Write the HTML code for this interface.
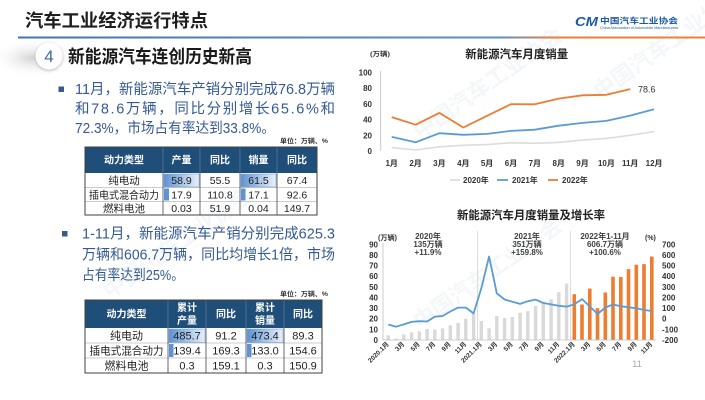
<!DOCTYPE html>
<html><head><meta charset="utf-8">
<style>
html,body{margin:0;padding:0;background:#fff;}
svg{display:block;font-family:"Liberation Sans","Noto Sans CJK SC",sans-serif;}
</style></head>
<body>
<svg width="705" height="400" viewBox="0 0 705 400" xmlns="http://www.w3.org/2000/svg">
<defs>
<linearGradient id="hline" x1="0" x2="1" y1="0" y2="0">
<stop offset="0" stop-color="#3f74b5"/><stop offset="0.7" stop-color="#5b8fcf"/><stop offset="0.78" stop-color="#e8813a"/><stop offset="1" stop-color="#e8813a"/>
</linearGradient>
<radialGradient id="shade" cx="0.5" cy="0.5" r="0.5">
<stop offset="0" stop-color="#cfcfcf" stop-opacity="0.9"/><stop offset="1" stop-color="#ffffff" stop-opacity="0"/>
</radialGradient>
<linearGradient id="cellbar" x1="0" x2="1" y1="0" y2="0">
<stop offset="0" stop-color="#5e92d2"/><stop offset="1" stop-color="#e9f1fb"/>
</linearGradient>
<filter id="sh" x="-50%" y="-50%" width="200%" height="200%"><feDropShadow dx="0" dy="1" stdDeviation="1.5" flood-color="#888" flood-opacity="0.6"/></filter>
</defs>

<!-- watermarks -->
<g fill="#c9d6e6" opacity="0.2" font-size="22" font-weight="bold">
<text transform="translate(110,300) rotate(-35)">中国汽车工业协会</text>
<text transform="translate(420,140) rotate(-35)">中国汽车工业协会</text>
<text transform="translate(600,100) rotate(-35)">中国汽车工业协会</text>
<text transform="translate(420,330) rotate(-35)">中国汽车工业协会</text>
</g>

<!-- header -->
<text x="25" y="27" font-size="18" font-weight="bold" fill="#1e1e1e" textLength="183" lengthAdjust="spacingAndGlyphs">汽车工业经济运行特点</text>
<rect x="18" y="36.5" width="687" height="2" fill="url(#hline)"/>
<text x="575" y="26" font-size="13" font-weight="bold" font-style="italic" fill="#1d5aa8" textLength="23" lengthAdjust="spacingAndGlyphs">CM</text>
<text x="600" y="23.5" font-size="8" font-weight="bold" fill="#1d5aa8" textLength="78" lengthAdjust="spacingAndGlyphs">中国汽车工业协会</text>
<text x="600" y="29" font-size="3.5" fill="#1d5aa8" textLength="78" lengthAdjust="spacingAndGlyphs">China Association of Automobile Manufacturers</text>

<!-- section heading -->
<ellipse cx="32" cy="58" rx="42" ry="20" fill="url(#shade)"/>
<circle cx="49" cy="56" r="13.5" fill="#fff" filter="url(#sh)"/>
<text x="49" y="62" font-size="17" fill="#3f6aa8" text-anchor="middle">4</text>
<text x="68" y="63" font-size="18" font-weight="bold" fill="#1a1a1a" textLength="184" lengthAdjust="spacingAndGlyphs">新能源汽车连创历史新高</text>

<!-- bullet 1 -->
<rect x="58.5" y="86.5" width="5.5" height="5.5" fill="#3a5a8c"/>
<g font-size="14.5" fill="#345a94">
<text x="75" y="94" textLength="260" lengthAdjust="spacingAndGlyphs">11月，新能源汽车产销分别完成76.8万辆</text>
<text x="75" y="113.5" textLength="260" lengthAdjust="spacing">和78.6万辆，同比分别增长65.6%和</text>
<text x="75" y="133" textLength="200" lengthAdjust="spacingAndGlyphs">72.3%，市场占有率达到33.8%。</text>
</g>
<text x="280" y="143" font-size="6.5" font-weight="bold" fill="#333" textLength="48" lengthAdjust="spacingAndGlyphs">单位：万辆、%</text>

<!-- table 1 -->
<g>
<rect x="85" y="147" width="232" height="26" fill="#1f4e79"/>
<rect x="164" y="174" width="35" height="13" fill="url(#cellbar)" stroke="#7aa4d6" stroke-width="0.6"/>
<rect x="241" y="174" width="35" height="13" fill="url(#cellbar)" stroke="#7aa4d6" stroke-width="0.6"/>
<rect x="164" y="188.5" width="5" height="12" fill="#5e92d2"/>
<rect x="241" y="188.5" width="4.5" height="12" fill="#5e92d2"/>
<g stroke="#9a9a9a" stroke-width="0.6"><line x1="85" y1="187.5" x2="317" y2="187.5"/><line x1="85" y1="201.5" x2="317" y2="201.5"/></g>
<g stroke="#444" stroke-width="0.8"><line x1="163" y1="173" x2="163" y2="215"/><line x1="200" y1="173" x2="200" y2="215"/><line x1="240" y1="173" x2="240" y2="215"/><line x1="277" y1="173" x2="277" y2="215"/></g>
<g stroke="#6a87a8" stroke-width="0.6"><line x1="163" y1="147" x2="163" y2="173"/><line x1="200" y1="147" x2="200" y2="173"/><line x1="240" y1="147" x2="240" y2="173"/><line x1="277" y1="147" x2="277" y2="173"/></g>
<rect x="85" y="147" width="232" height="68" fill="none" stroke="#404040" stroke-width="1"/>
<g font-size="10" font-weight="bold" fill="#fff" text-anchor="middle">
<text x="124" y="163.5">动力类型</text><text x="181.5" y="163.5">产量</text><text x="220" y="163.5">同比</text><text x="258.5" y="163.5">销量</text><text x="297" y="163.5">同比</text>
</g>
<g font-size="10.5" fill="#222" text-anchor="middle">
<text x="124" y="184">纯电动</text><text x="181.5" y="184">58.9</text><text x="220" y="184">55.5</text><text x="258.5" y="184">61.5</text><text x="297" y="184">67.4</text>
<text x="124" y="198.5" textLength="70" lengthAdjust="spacingAndGlyphs">插电式混合动力</text><text x="181.5" y="198.5">17.9</text><text x="220" y="198.5">110.8</text><text x="258.5" y="198.5">17.1</text><text x="297" y="198.5">92.6</text>
<text x="124" y="212">燃料电池</text><text x="181.5" y="212">0.03</text><text x="220" y="212">51.9</text><text x="258.5" y="212">0.04</text><text x="297" y="212">149.7</text>
</g>
</g>

<!-- bullet 2 -->
<rect x="62" y="231" width="5.5" height="5.5" fill="#3a5a8c"/>
<g font-size="14.5" fill="#345a94">
<text x="82" y="238.5" textLength="253" lengthAdjust="spacingAndGlyphs">1-11月，新能源汽车产销分别完成625.3</text>
<text x="82" y="259.5" textLength="253" lengthAdjust="spacingAndGlyphs">万辆和606.7万辆，同比均增长1倍，市场</text>
<text x="82" y="280" textLength="102" lengthAdjust="spacingAndGlyphs">占有率达到25%。</text>
</g>
<text x="280" y="296" font-size="6.5" font-weight="bold" fill="#333" textLength="48" lengthAdjust="spacingAndGlyphs">单位：万辆、%</text>

<!-- table 2 -->
<g>
<rect x="85" y="300" width="237" height="28" fill="#1f4e79"/>
<rect x="169" y="329" width="36" height="13.5" fill="url(#cellbar)" stroke="#7aa4d6" stroke-width="0.6"/>
<rect x="247" y="329" width="36" height="13.5" fill="url(#cellbar)" stroke="#7aa4d6" stroke-width="0.6"/>
<rect x="169" y="344" width="4.5" height="13" fill="#5e92d2"/>
<rect x="247" y="344" width="4.5" height="13" fill="#5e92d2"/>
<g stroke="#9a9a9a" stroke-width="0.6"><line x1="85" y1="343" x2="322" y2="343"/><line x1="85" y1="358" x2="322" y2="358"/></g>
<g stroke="#444" stroke-width="0.8"><line x1="168" y1="328" x2="168" y2="373"/><line x1="206" y1="328" x2="206" y2="373"/><line x1="246" y1="328" x2="246" y2="373"/><line x1="284" y1="328" x2="284" y2="373"/></g>
<g stroke="#6a87a8" stroke-width="0.6"><line x1="168" y1="300" x2="168" y2="328"/><line x1="206" y1="300" x2="206" y2="328"/><line x1="246" y1="300" x2="246" y2="328"/><line x1="284" y1="300" x2="284" y2="328"/></g>
<rect x="85" y="300" width="237" height="73" fill="none" stroke="#404040" stroke-width="1"/>
<g font-size="10" font-weight="bold" fill="#fff" text-anchor="middle">
<text x="126.5" y="317.5">动力类型</text>
<text x="187" y="311">累计</text><text x="187" y="324">产量</text>
<text x="226" y="317.5">同比</text>
<text x="265" y="311">累计</text><text x="265" y="324">销量</text>
<text x="303" y="317.5">同比</text>
</g>
<g font-size="11" fill="#222" text-anchor="middle">
<text x="126.5" y="339.5">纯电动</text><text x="187" y="339.5">485.7</text><text x="226" y="339.5">91.2</text><text x="265" y="339.5">473.4</text><text x="303" y="339.5">89.3</text>
<text x="126.5" y="354.5" textLength="74" lengthAdjust="spacingAndGlyphs">插电式混合动力</text><text x="187" y="354.5">139.4</text><text x="226" y="354.5">169.3</text><text x="265" y="354.5">133.0</text><text x="303" y="354.5">154.6</text>
<text x="126.5" y="369.5">燃料电池</text><text x="187" y="369.5">0.3</text><text x="226" y="369.5">159.1</text><text x="265" y="369.5">0.3</text><text x="303" y="369.5">150.9</text>
</g>
</g>

<!-- top chart -->
<text x="516.7" y="58" font-size="11.5" font-weight="bold" fill="#222" text-anchor="middle" textLength="103" lengthAdjust="spacingAndGlyphs">新能源汽车月度销量</text>
<text x="370" y="56" font-size="6.5" font-weight="bold" fill="#333" textLength="20" lengthAdjust="spacingAndGlyphs">(万辆)</text>
<line x1="380.7" y1="71" x2="380.7" y2="151" stroke="#bfbfbf" stroke-width="0.8"/>
<g font-size="8" font-weight="bold" fill="#333" text-anchor="end">
<text x="372" y="75.3">100</text><text x="372" y="91">80</text><text x="372" y="106.8">60</text><text x="372" y="122.5">40</text><text x="372" y="138.3">20</text><text x="372" y="154">0</text>
</g>
<g font-size="8" font-weight="bold" fill="#333" text-anchor="middle">
<text x="391.7" y="166">1月</text><text x="415.6" y="166">2月</text><text x="439.4" y="166">3月</text><text x="463.3" y="166">4月</text><text x="487.1" y="166">5月</text><text x="511" y="166">6月</text><text x="534.8" y="166">7月</text><text x="558.7" y="166">8月</text><text x="582.5" y="166">9月</text><text x="606.4" y="166">10月</text><text x="630.2" y="166">11月</text><text x="654.1" y="166">12月</text>
</g>
<polyline fill="none" stroke="#dcdcdc" stroke-width="1.6" stroke-linejoin="round" points="391.7,147.5 415.6,150.0 439.4,146.8 463.3,145.3 487.1,144.6 511.0,142.8 534.8,143.3 558.7,142.4 582.5,140.1 606.4,138.4 630.2,135.3 654.1,131.5"/>
<polyline fill="none" stroke="#5b9bd5" stroke-width="1.8" stroke-linejoin="round" points="391.7,136.9 415.6,142.3 439.4,133.2 463.3,134.8 487.1,133.9 511.0,130.9 534.8,129.7 558.7,125.7 582.5,122.9 606.4,120.9 630.2,115.6 654.1,109.2"/>
<polyline fill="none" stroke="#ed7d31" stroke-width="1.8" stroke-linejoin="round" points="391.7,117.1 415.6,124.7 439.4,112.9 463.3,127.5 487.1,115.8 511.0,104.1 534.8,104.3 558.7,98.6 582.5,95.3 606.4,94.8 630.2,89.1"/>
<text x="638" y="92.5" font-size="9" fill="#333">78.6</text>
<g font-size="8" font-weight="bold" fill="#333">
<line x1="450" y1="180" x2="460" y2="180" stroke="#dcdcdc" stroke-width="1.8"/><text x="463" y="183">2020年</text>
<line x1="497" y1="180" x2="508" y2="180" stroke="#5b9bd5" stroke-width="1.8"/><text x="512" y="183">2021年</text>
<line x1="548" y1="180" x2="558" y2="180" stroke="#ed7d31" stroke-width="1.8"/><text x="562" y="183">2022年</text>
</g>

<!-- bottom chart -->
<text x="531" y="219" font-size="11.5" font-weight="bold" fill="#222" text-anchor="middle" textLength="148" lengthAdjust="spacingAndGlyphs">新能源汽车月度销量及增长率</text>
<text x="378" y="240" font-size="7" font-weight="bold" fill="#333" textLength="19" lengthAdjust="spacingAndGlyphs">(万辆)</text>
<text x="645" y="240" font-size="7" font-weight="bold" fill="#333">(%)</text>
<line x1="477.6" y1="231" x2="477.6" y2="340" stroke="#d4d4d4" stroke-width="0.8"/>
<line x1="570.6" y1="231" x2="570.6" y2="340" stroke="#d4d4d4" stroke-width="0.8"/>
<g font-size="8" font-weight="bold" fill="#333" text-anchor="end">
<text x="378" y="343">0</text><text x="378" y="332.4">10</text><text x="378" y="321.7">20</text><text x="378" y="311.1">30</text><text x="378" y="300.5">40</text><text x="378" y="289.9">50</text><text x="378" y="279.2">60</text><text x="378" y="268.6">70</text><text x="378" y="258">80</text><text x="378" y="247.3">90</text>
</g>
<g font-size="8" font-weight="bold" fill="#333">
<text x="662" y="343">-200</text><text x="662" y="332.4">-100</text><text x="662" y="321.7">0</text><text x="662" y="311.1">100</text><text x="662" y="300.5">200</text><text x="662" y="289.9">300</text><text x="662" y="279.2">400</text><text x="662" y="268.6">500</text><text x="662" y="258">600</text><text x="662" y="247.3">700</text>
</g>
<g font-size="8" font-weight="bold" fill="#404040" text-anchor="middle">
<text x="428" y="239">2020年</text><text x="428" y="247">135万辆</text><text x="428" y="255">+11.9%</text>
<text x="527" y="239">2021年</text><text x="527" y="247">351万辆</text><text x="527" y="255">+159.8%</text>
<text x="605" y="239">2022年1-11月</text><text x="605" y="247">606.7万辆</text><text x="605" y="255">+100.6%</text>
</g>
<g fill="#d9d9d9">
<rect x="386.6" y="335.3" width="3.4" height="4.7"/>
<rect x="394.4" y="338.6" width="3.4" height="1.4"/>
<rect x="402.1" y="334.4" width="3.4" height="5.6"/>
<rect x="409.9" y="332.4" width="3.4" height="7.6"/>
<rect x="417.6" y="331.3" width="3.4" height="8.7"/>
<rect x="425.4" y="328.9" width="3.4" height="11.1"/>
<rect x="433.1" y="329.6" width="3.4" height="10.4"/>
<rect x="440.9" y="328.4" width="3.4" height="11.6"/>
<rect x="448.6" y="325.3" width="3.4" height="14.7"/>
<rect x="456.4" y="323.0" width="3.4" height="17.0"/>
<rect x="464.1" y="318.7" width="3.4" height="21.3"/>
<rect x="471.9" y="313.6" width="3.4" height="26.4"/>
<rect x="479.6" y="321.0" width="3.4" height="19.0"/>
<rect x="487.4" y="328.3" width="3.4" height="11.7"/>
<rect x="495.1" y="316.0" width="3.4" height="24.0"/>
<rect x="502.9" y="318.1" width="3.4" height="21.9"/>
<rect x="510.6" y="316.9" width="3.4" height="23.1"/>
<rect x="518.4" y="312.8" width="3.4" height="27.2"/>
<rect x="526.1" y="311.2" width="3.4" height="28.8"/>
<rect x="533.9" y="305.9" width="3.4" height="34.1"/>
<rect x="541.6" y="302.1" width="3.4" height="37.9"/>
<rect x="549.4" y="299.3" width="3.4" height="40.7"/>
<rect x="557.1" y="292.2" width="3.4" height="47.8"/>
<rect x="564.9" y="283.6" width="3.4" height="56.4"/>
</g>
<g fill="#ed7d31">
<rect x="572.5" y="294.2" width="3.6" height="45.8"/>
<rect x="580.2" y="304.5" width="3.6" height="35.5"/>
<rect x="588.0" y="288.6" width="3.6" height="51.4"/>
<rect x="595.7" y="308.2" width="3.6" height="31.8"/>
<rect x="603.5" y="292.5" width="3.6" height="47.5"/>
<rect x="611.2" y="276.7" width="3.6" height="63.3"/>
<rect x="619.0" y="277.0" width="3.6" height="63.0"/>
<rect x="626.7" y="269.2" width="3.6" height="70.8"/>
<rect x="634.5" y="264.7" width="3.6" height="75.3"/>
<rect x="642.2" y="264.1" width="3.6" height="75.9"/>
<rect x="650.0" y="256.5" width="3.6" height="83.5"/>
</g>
<line x1="383" y1="243" x2="383" y2="340" stroke="#bfbfbf" stroke-width="0.8"/>
<line x1="383" y1="340" x2="656" y2="340" stroke="#bfbfbf" stroke-width="0.8"/>
<polyline fill="none" stroke="#5b9bd5" stroke-width="1.8" stroke-linejoin="round" points="388.3,324.5 396.1,326.7 403.8,324.4 411.6,321.9 419.3,321.2 427.1,321.5 434.8,316.7 442.6,316.0 450.3,311.5 458.1,307.6 465.8,307.6 473.6,313.4 481.3,288.3 489.1,256.5 496.8,293.3 504.6,299.5 512.3,301.7 520.1,303.9 527.8,301.2 535.6,299.6 543.3,303.0 551.1,304.4 558.8,305.8 566.6,306.6 574.3,304.3 582.1,299.1 589.8,306.5 597.6,314.0 605.3,307.5 613.1,304.5 620.8,306.2 628.6,307.3 636.3,308.3 644.1,310.0 651.8,311.0"/>
<g font-size="6.5" font-weight="bold" fill="#333" text-anchor="end">
<text transform="translate(389.3,344.5) rotate(-45)">2020.1月</text>
<text transform="translate(404.8,344.5) rotate(-45)">3月</text>
<text transform="translate(420.3,344.5) rotate(-45)">5月</text>
<text transform="translate(435.8,344.5) rotate(-45)">7月</text>
<text transform="translate(451.3,344.5) rotate(-45)">9月</text>
<text transform="translate(466.8,344.5) rotate(-45)">11月</text>
<text transform="translate(482.3,344.5) rotate(-45)">2021.1月</text>
<text transform="translate(497.8,344.5) rotate(-45)">3月</text>
<text transform="translate(513.3,344.5) rotate(-45)">5月</text>
<text transform="translate(528.8,344.5) rotate(-45)">7月</text>
<text transform="translate(544.3,344.5) rotate(-45)">9月</text>
<text transform="translate(559.8,344.5) rotate(-45)">11月</text>
<text transform="translate(575.3,344.5) rotate(-45)">2022.1月</text>
<text transform="translate(590.8,344.5) rotate(-45)">3月</text>
<text transform="translate(606.3,344.5) rotate(-45)">5月</text>
<text transform="translate(621.8,344.5) rotate(-45)">7月</text>
<text transform="translate(637.3,344.5) rotate(-45)">9月</text>
<text transform="translate(652.8,344.5) rotate(-45)">11月</text>
</g>
<text x="637" y="367" font-size="9.5" fill="#aaa" text-anchor="middle">11</text>
</svg>
</body></html>
